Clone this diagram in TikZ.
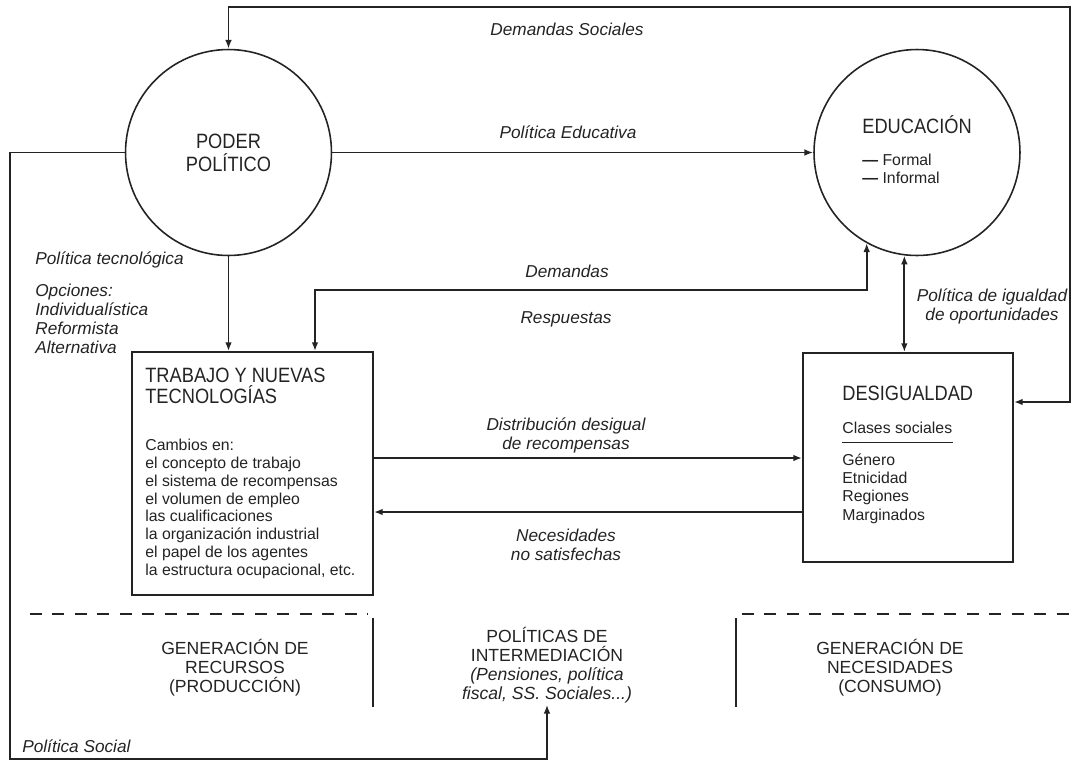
\documentclass[tikz,border=0pt]{standalone}
\usepackage{fontspec}
\setmainfont{Liberation Sans}
\newfontfamily\narrowsans[FakeStretch=0.88]{Liberation Sans}
\usetikzlibrary{arrows.meta, positioning}
\definecolor{inkgray}{RGB}{35,35,35}

\tikzset{
  arr/.style={-{Latex[length=5pt,width=3.8pt]}, line width=1pt},
  both/.style={{Latex[length=5pt,width=3.8pt]}-{Latex[length=5pt,width=3.8pt]}, line width=1pt},
  ring/.style={circle, draw, line width=0.9pt, minimum size=4.12cm, inner sep=0pt},
  panel/.style={draw, line width=1.1pt, inner sep=0pt},
  head/.style={font=\narrowsans\fontsize{11.8}{11.4}\selectfont, inner sep=0pt, align=left},
  body/.style={font=\fontsize{9}{10.1}\selectfont, inner sep=0pt, align=left},
  lbl/.style={font=\fontsize{9.8}{10.8}\selectfont\itshape, inner sep=0pt, align=center},
  sector/.style={font=\fontsize{10}{10.7}\selectfont, inner sep=0pt, align=center},
  divider/.style={line width=1.4pt, dash pattern=on 6.8pt off 6pt},
  wall/.style={line width=1.2pt}
}

\begin{document}
\begin{tikzpicture}[x=0.02cm, y=-0.02cm, color=inkgray]
  \useasboundingbox (0,0) rectangle (1076,762);

  % the two circles
  \node[ring, font=\narrowsans\fontsize{11.8}{13}\selectfont, align=center] (poder) at (228.5,152.5) {PODER\\POLÍTICO};
  \node[ring] (edu) at (917,152.5) {};
  \node[head, anchor=base west] (eduhead) at (862,133) {EDUCACIÓN};
  % (multi-line nodes: base = last line)
  \node[body, anchor=base west, font=\fontsize{9}{10.2}\selectfont] (edutypes) at (862,183) {\textbf{—} Formal\\\textbf{—} Informal};

  % work box
  \node[panel, minimum width=4.82cm, minimum height=4.86cm] (trabajo) at (252.5,473.5) {};
  \node[head, anchor=base west] (trabhead) at (145,403) {TRABAJO Y NUEVAS\\TECNOLOGÍAS};
  \node[body, anchor=base west] (trabbody) at (145,575) {Cambios en:\\el concepto de trabajo\\el sistema de recompensas\\el volumen de empleo\\las cualificaciones\\la organización industrial\\el papel de los agentes\\la estructura ocupacional, etc.};

  % inequality box
  \node[panel, minimum width=4.2cm, minimum height=4.18cm] (desig) at (908,457.5) {};
  \node[head, anchor=base west] (deshead) at (842,400) {DESIGUALDAD};
  \node[body, anchor=base west, inner ysep=5pt] (clases) at (842,433) {Clases sociales};
  \draw[line width=0.9pt] (clases.south west) -- (clases.south east);
  \node[body, anchor=base west, font=\fontsize{9}{10.4}\selectfont] (grupos) at (842,520) {Género\\Etnicidad\\Regiones\\Marginados};

  % bottom sectors
  \node[sector, anchor=base] (recursos) at (235,692) {GENERACIÓN DE\\RECURSOS\\(PRODUCCIÓN)};
  \node[sector, anchor=base, inner sep=1pt] (interm) at (547,699) {POLÍTICAS DE\\INTERMEDIACIÓN\\\textit{(Pensiones, política}\\\textit{fiscal, SS. Sociales...)}};
  \node[sector, anchor=base] (necesid) at (890,692) {GENERACIÓN DE\\NECESIDADES\\(CONSUMO)};
  \draw[divider] (30,614) -- (368,614);
  \draw[wall] (373,618) -- (373,707);
  \draw[wall] (736,618) -- (736,707);
  \draw[divider] (742,614) -- (1072,614);

  % corners of the long lines
  \coordinate (ne) at (1070,7);
  \coordinate (ds) at (1070,402);
  \coordinate (sw) at (10,759);
  \coordinate (dm) at (315,290);
  \coordinate (dist) at (0,458);
  \coordinate (need) at (0,512);

  % Demandas Sociales
  \draw[both] (poder.north) |- (ne) -- (ds) -- (ds -| desig.east);
  \node[lbl, anchor=base] (lsoc) at (567,35) {Demandas Sociales};

  % Politica Educativa
  \draw[arr] (poder.east) -- (edu.west);
  \node[lbl, anchor=base] (leduc) at (568,138) {Política Educativa};

  % Politica tecnologica
  \draw[arr] (poder.south) -- (poder.south |- trabajo.north);
  \node[lbl, anchor=base west] (ltec) at (35,264) {Política tecnológica};
  \node[lbl, anchor=base west, align=left] (lopc) at (35,353) {Opciones:\\Individualística\\Reformista\\Alternativa};

  % Demandas / Respuestas
  \draw[both] (dm |- trabajo.north) -- (dm) -| (edu.241.6);
  \node[lbl, anchor=base] (ldem) at (567,277) {Demandas};
  \node[lbl, anchor=base] (lresp) at (566,323) {Respuestas};

  % igualdad de oportunidades
  \draw[both] (edu.263.3) -- (edu.263.3 |- desig.north);
  \node[lbl, anchor=base] (ligual) at (992,320) {Política de igualdad\\de oportunidades};

  % rewards and needs
  \draw[arr] (dist -| trabajo.east) -- (dist -| desig.west);
  \draw[arr] (need -| desig.west) -- (need -| trabajo.east);
  \node[lbl, anchor=base] (ldist) at (566,449) {Distribución desigual\\de recompensas};
  \node[lbl, anchor=base] (lneed) at (566,560) {Necesidades\\no satisfechas};

  % Politica Social
  \draw[arr] (poder.west) -| (sw) -| (interm.south);
  \node[lbl, anchor=base west] (lsocial) at (22,752) {Política Social};
\end{tikzpicture}
\end{document}
